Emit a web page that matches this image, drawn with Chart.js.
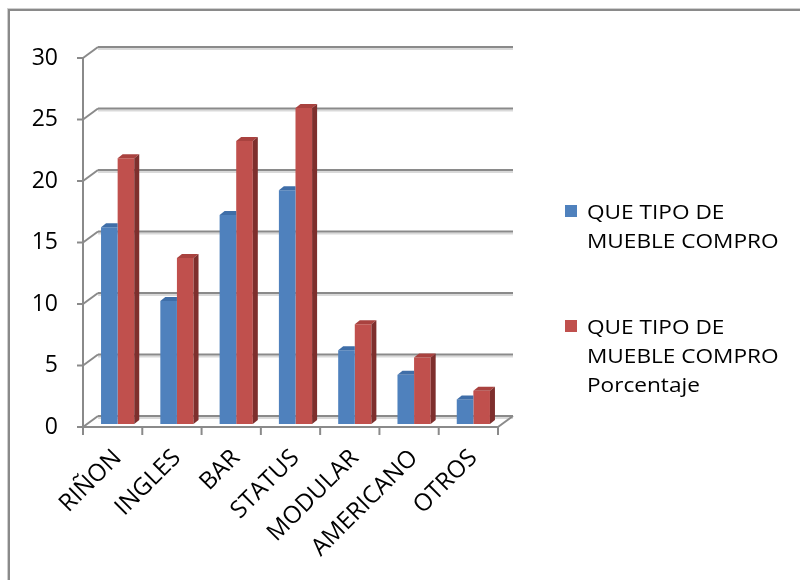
<!DOCTYPE html>
<html>
<head>
<meta charset="utf-8">
<script src="https://cdn.jsdelivr.net/npm/chart.js@4.4.0/dist/chart.umd.min.js"></script>
<style>
    html, body { margin: 0; padding: 0; background: #fff; }
    #wrap { position: relative; width: 800px; height: 580px; overflow: hidden; }
    #frame {
        position: absolute; left: 8px; top: 9px; width: 830px; height: 620px;
        border: 2px solid #8a8a8a; outline: 1px solid #cfcfcf;
    }
    #chart { position: absolute; left: 0; top: 0; }
    #legend { position: absolute; left: 0; top: 0; font-family: 'Open Sans', sans-serif; font-size: 19.5px; color: #000; }
    .item { position: absolute; left: 565px; }
    .box { position: absolute; left: 0; top: 8px; width: 12px; height: 12px; }
    .txt { position: absolute; left: 22px; top: 0; line-height: 29px; white-space: nowrap; transform: scaleX(1.16); transform-origin: 0 0; }
</style>
</head>
<body>
<div id="wrap">
    <div id="frame"></div>
    <canvas id="chart" width="800" height="580"></canvas>
    <div id="legend"></div>
</div>
<script>
// categories and series
var categories = ['RIÑON', 'INGLES', 'BAR', 'STATUS', 'MODULAR', 'AMERICANO', 'OTROS'];
var compras = [16, 10, 17, 19, 6, 4, 2];
var porcentaje = [21.6, 13.5, 23.0, 25.7, 8.1, 5.4, 2.7];
var series_names = [
    ['QUE TIPO DE', 'MUEBLE COMPRO'],
    ['QUE TIPO DE', 'MUEBLE COMPRO', 'Porcentaje']
];
var y_max = 30;
var y_step = 5;

var front_colors = ['#4f81bd', '#c0504d'];
var top_colors = ['#3f6ea8', '#a9423f'];
var side_colors = ['#345a88', '#7e2f2d'];
var legend_tops = [197, 312];

// depth of the pseudo 3d box, relative to the plane the bars sit on
var DEPTH_X = 5, DEPTH_Y = -4;     // bar thickness
var WALL_X = 10, WALL_Y = -8;      // back wall
var FRONT_X = -5, FRONT_Y = 3;     // front edge / axis

function line(ctx, x1, y1, x2, y2) {
    ctx.beginPath();
    ctx.moveTo(x1, y1);
    ctx.lineTo(x2, y2);
    ctx.stroke();
}

var box3d = {
    id: 'box3d',
    beforeDatasetsDraw: function (chart) {
        var ctx = chart.ctx, a = chart.chartArea;
        var xs = chart.scales.x, ys = chart.scales.y;
        ctx.save();
        ctx.lineWidth = 2;
        ys.ticks.forEach(function (t) {
            var py = ys.getPixelForValue(t.value);
            // soft shadow under each wall line
            ctx.strokeStyle = '#d9d9d9';
            line(ctx, a.left + WALL_X, py + WALL_Y + 2, a.right + WALL_X, py + WALL_Y + 2);
            ctx.strokeStyle = '#8a8a8a';
            line(ctx, a.left + WALL_X, py + WALL_Y, a.right + WALL_X, py + WALL_Y);
            line(ctx, a.left + FRONT_X, py + FRONT_Y, a.left + WALL_X, py + WALL_Y);
            line(ctx, a.left + FRONT_X - 6, py + FRONT_Y, a.left + FRONT_X, py + FRONT_Y);
        });
        var y0 = ys.getPixelForValue(0) + FRONT_Y;
        var yTop = ys.getPixelForValue(y_max) + FRONT_Y;
        ctx.strokeStyle = '#8a8a8a';
        line(ctx, a.left + FRONT_X, yTop, a.left + FRONT_X, y0);
        line(ctx, a.left + FRONT_X, y0, a.right + FRONT_X, y0);
        line(ctx, a.right + FRONT_X, y0, a.right + WALL_X, ys.getPixelForValue(0) + WALL_Y);
        for (var i = 0; i <= categories.length; i++) {
            var px = xs.getPixelForValue(i - 0.5) + FRONT_X;
            line(ctx, px, y0, px, y0 + 8);
        }
        ctx.restore();
    },
    afterDatasetsDraw: function (chart) {
        var ctx = chart.ctx;
        ctx.save();
        chart.data.datasets.forEach(function (ds, i) {
            chart.getDatasetMeta(i).data.forEach(function (bar) {
                var p = bar.getProps(['x', 'y', 'base', 'width'], true);
                var l = p.x - p.width / 2, r = p.x + p.width / 2;
                var last = i === chart.data.datasets.length - 1;
                // top face; the front series is hidden past its right edge by the next bar
                ctx.fillStyle = top_colors[i];
                ctx.beginPath();
                ctx.moveTo(l, p.y);
                ctx.lineTo(l + DEPTH_X, p.y + DEPTH_Y);
                ctx.lineTo(last ? r + DEPTH_X : r, p.y + DEPTH_Y);
                ctx.lineTo(r, p.y);
                ctx.closePath();
                ctx.fill();
                if (last) {
                    ctx.fillStyle = side_colors[i];
                    ctx.beginPath();
                    ctx.moveTo(r, p.y);
                    ctx.lineTo(r + DEPTH_X, p.y + DEPTH_Y);
                    ctx.lineTo(r + DEPTH_X, p.base + DEPTH_Y);
                    ctx.lineTo(r, p.base);
                    ctx.closePath();
                    ctx.fill();
                }
            });
        });
        ctx.restore();
    }
};

Chart.defaults.font.family = "'Open Sans', sans-serif";
Chart.defaults.color = '#000';

var chart = new Chart(document.getElementById('chart').getContext('2d'), {
    type: 'bar',
    data: {
        labels: categories,
        datasets: [
            { label: series_names[0].join(' '), data: compras, backgroundColor: front_colors[0], borderWidth: 0 },
            { label: series_names[1].join(' '), data: porcentaje, backgroundColor: front_colors[1], borderWidth: 0 }
        ]
    },
    options: {
        responsive: false,
        animation: false,
        devicePixelRatio: 1,
        categoryPercentage: 0.56,
        barPercentage: 1.0,
        layout: { padding: { left: 0, top: 55, right: 297, bottom: 0 } },
        plugins: {
            legend: { display: false },
            tooltip: { enabled: false }
        },
        scales: {
            x: {
                grid: { display: false, drawTicks: false },
                border: { display: false },
                ticks: { font: { size: 24 }, maxRotation: 45, minRotation: 45, padding: 20, autoSkip: false },
                afterFit: function (scale) { scale.height = 156; }
            },
            y: {
                min: 0,
                max: y_max,
                grid: { display: false, drawTicks: false },
                border: { display: false },
                ticks: { stepSize: y_step, font: { size: 23 }, padding: 30, labelOffset: 3 },
                afterFit: function (scale) { scale.width = 88; }
            }
        }
    },
    plugins: [box3d]
});

// legend with wrapped series names
var legend = document.getElementById('legend');
chart.data.datasets.forEach(function (ds, i) {
    var item = document.createElement('div');
    item.className = 'item';
    item.style.top = legend_tops[i] + 'px';
    var box = document.createElement('span');
    box.className = 'box';
    box.style.background = front_colors[i];
    var txt = document.createElement('div');
    txt.className = 'txt';
    txt.innerHTML = series_names[i].join('<br>');
    item.appendChild(box);
    item.appendChild(txt);
    legend.appendChild(item);
});
</script>
</body>
</html>
